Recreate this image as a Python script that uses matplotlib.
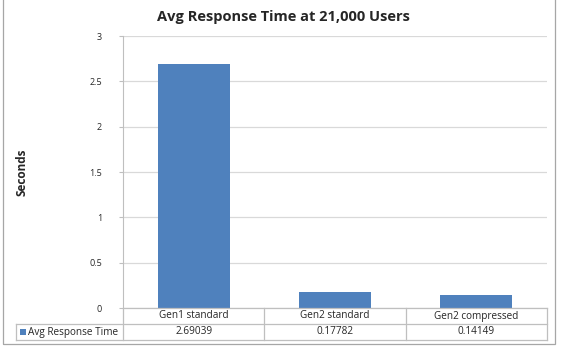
import matplotlib
matplotlib.use("Agg")
import matplotlib.pyplot as plt
from matplotlib.lines import Line2D
from matplotlib.patches import Rectangle

categories = ["Gen1 standard", "Gen2 standard", "Gen2 compressed"]
series_name = "Avg Response Time"
values = [2.69039, 0.17782, 0.14149]
value_labels = ["2.69039", "0.17782", "0.14149"]
yticks = [0, 0.5, 1, 1.5, 2, 2.5, 3]
ytick_labels = ["0", "0.5", "1", "1.5", "2", "2.5", "3"]

plt.rcParams['font.family'] = ['Open Sans', 'DejaVu Sans']
W, H = 561, 348
bar_col = "#4F81BD"
grid_col = "#D9D9D9"
line_col = "#BFBFBF"
txt_col = "#262626"

fig = plt.figure(figsize=(W / 100, H / 100), dpi=100)


def fx(x):
    return x / W


def fy(y):
    return 1 - y / H


def hline(y, xa, xb):
    fig.add_artist(Line2D([fx(xa), fx(xb)], [fy(y), fy(y)], color=line_col, lw=0.9))


def vline(x, ya, yb):
    fig.add_artist(Line2D([fx(x), fx(x)], [fy(ya), fy(yb)], color=line_col, lw=0.9))


# outer chart border (top edge lies above the image)
fig.patches.append(Rectangle((fx(3), fy(344)), 552 / W, 354 / H, transform=fig.transFigure,
                             fill=False, edgecolor="#A6A6A6", lw=0.9, clip_on=False))

# plot area in pixels
x0, x1 = 123, 547
y0, y1 = 308, 36
ax = fig.add_axes([fx(x0), fy(y0), (x1 - x0) / W, (y0 - y1) / H])
pos = range(len(categories))
ax.bar(pos, values, width=0.51, color=bar_col, zorder=3)
ax.set_xlim(-0.5, len(categories) - 0.5)
ax.set_ylim(0, 3)
ax.set_yticks(yticks)
ax.set_yticklabels(ytick_labels, fontsize=6.5, color=txt_col)
ax.set_xticks([])
ax.yaxis.grid(True, color=grid_col, lw=0.9, zorder=0)
for s in ["top", "right", "bottom"]:
    ax.spines[s].set_visible(False)
ax.spines["left"].set_color(line_col)
ax.tick_params(axis="y", length=3, color=line_col, pad=12)
ax.set_ylabel("Seconds", fontsize=8.5, fontweight="bold", color=txt_col)
ax.yaxis.set_label_coords((29 - x0) / (x1 - x0), 0.5)

fig.text(0.505, fy(17), "Avg Response Time at 21,000 Users", ha="center", va="center",
         fontsize=10.5, fontweight="bold", color=txt_col)

# data table below the axis
tl = 16
r0, r1, r2 = 308, 324, 340
col_w = (x1 - x0) / len(categories)
hline(r0, x0, x1)
hline(r1, tl, x1)
hline(r2, tl, x1)
vline(tl, r1, r2)
for i in range(len(categories) + 1):
    vline(x0 + i * col_w, r0, r2)
for j, cat in enumerate(categories):
    cx = x0 + (j + 0.5) * col_w
    fig.text(fx(cx), fy((r0 + r1) / 2), cat, ha="center", va="center", fontsize=7.2, color=txt_col)
    fig.text(fx(cx), fy((r1 + r2) / 2), value_labels[j], ha="center", va="center",
             fontsize=7.2, color=txt_col)
fig.patches.append(Rectangle((fx(20), fy(335)), 6 / W, 6 / H, transform=fig.transFigure,
                             facecolor=bar_col, edgecolor="none"))
fig.text(fx(28), fy((r1 + r2) / 2), series_name, ha="left", va="center", fontsize=7.2, color=txt_col)

fig.savefig("out.png", dpi=100)
